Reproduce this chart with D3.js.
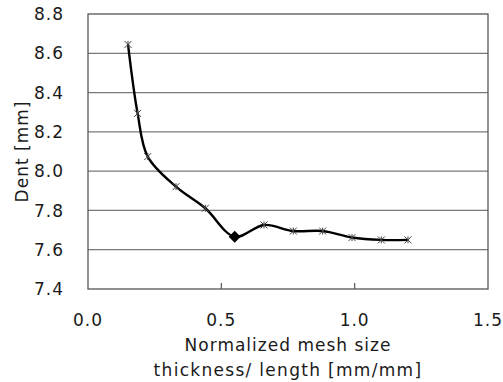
<!DOCTYPE html>
<html><head><meta charset="utf-8">
<script src="https://cdn.jsdelivr.net/npm/d3@7"></script>
<style>
body{margin:0;background:#fff;}
text{font-family:"DejaVu Sans",sans-serif;fill:#1a1a1a;}
</style></head>
<body><svg id="chart" width="503" height="382"></svg>
<script>
// Dent vs. normalized mesh size
const meshSize = [0.15, 0.186, 0.224, 0.33, 0.44, 0.55, 0.66, 0.77, 0.88, 0.99, 1.10, 1.20];
const dent     = [8.645, 8.294, 8.074, 7.921, 7.811, 7.666, 7.726, 7.695, 7.695, 7.662, 7.65, 7.65];
const optimumIndex = 5;
const xTicks = [0.0, 0.5, 1.0, 1.5];
const yTicks = [7.4, 7.6, 7.8, 8.0, 8.2, 8.4, 8.6, 8.8];

const svg = d3.select("#chart");
const plotL = 88, plotR = 488, plotT = 14, plotB = 289;
const x = d3.scaleLinear().domain([0, 1.5]).range([plotL, plotR]);
const y = d3.scaleLinear().domain([7.4, 8.8]).range([plotB, plotT]);

// horizontal grid
svg.append("g").selectAll("line").data(yTicks.slice(1, -1)).join("line")
  .attr("x1", plotL).attr("x2", plotR)
  .attr("y1", d => y(d)).attr("y2", d => y(d))
  .attr("stroke", "#7a7a7a").attr("stroke-width", 1.2);

// frame
svg.append("rect").attr("x", plotL).attr("y", plotT)
  .attr("width", plotR - plotL).attr("height", plotB - plotT)
  .attr("fill", "none").attr("stroke", "#555").attr("stroke-width", 1.3);

// inner x ticks
svg.append("g").selectAll("line").data(xTicks.slice(1, -1)).join("line")
  .attr("x1", d => x(d)).attr("x2", d => x(d))
  .attr("y1", plotB).attr("y2", plotB - 6)
  .attr("stroke", "#555").attr("stroke-width", 1.2);

// tick labels
svg.append("g").selectAll("text").data(yTicks).join("text")
  .attr("x", 64).attr("y", d => y(d)).attr("dy", "0.36em")
  .attr("text-anchor", "end").attr("font-size", 17).attr("letter-spacing", "1px")
  .text(d => d.toFixed(1));
svg.append("g").selectAll("text").data(xTicks).join("text")
  .attr("x", d => x(d)).attr("y", 320).attr("dy", "0.36em")
  .attr("text-anchor", "middle").attr("font-size", 17).attr("letter-spacing", "1px")
  .text(d => d.toFixed(1));

// axis titles
svg.append("text").attr("transform", `translate(22,${(plotT + plotB) / 2}) rotate(-90)`)
  .attr("text-anchor", "middle").attr("dy", "0.36em").attr("font-size", 17)
  .attr("letter-spacing", "1px").text("Dent [mm]");
svg.append("text").attr("x", 288).attr("y", 345).attr("dy", "0.36em")
  .attr("text-anchor", "middle").attr("font-size", 17).attr("letter-spacing", "1px")
  .text("Normalized mesh size");
svg.append("text").attr("x", 288).attr("y", 370).attr("dy", "0.36em")
  .attr("text-anchor", "middle").attr("font-size", 17).attr("letter-spacing", "1.3px")
  .text("thickness/ length [mm/mm]");

// smoothed curve
const pts = meshSize.map((m, i) => [m, dent[i]]);
svg.append("path").datum(pts)
  .attr("d", d3.line().x(d => x(d[0])).y(d => y(d[1])).curve(d3.curveCatmullRom.alpha(0.5)))
  .attr("fill", "none").attr("stroke", "#000").attr("stroke-width", 2.4);

// star markers
const star = svg.append("g").attr("stroke", "#444").attr("stroke-width", 1);
pts.forEach((p, i) => {
  if (i === optimumIndex) return;
  const cx = x(p[0]), cy = y(p[1]), r = 3.5;
  star.append("path").attr("d",
    `M${cx - r},${cy - r}L${cx + r},${cy + r}M${cx - r},${cy + r}L${cx + r},${cy - r}M${cx},${cy - r}L${cx},${cy + r}`);
});

// optimum diamond
const op = pts[optimumIndex];
svg.append("path").attr("transform", `translate(${x(op[0])},${y(op[1])})`)
  .attr("d", "M0,-6L6,0L0,6L-6,0Z").attr("fill", "#000");
</script></body></html>
